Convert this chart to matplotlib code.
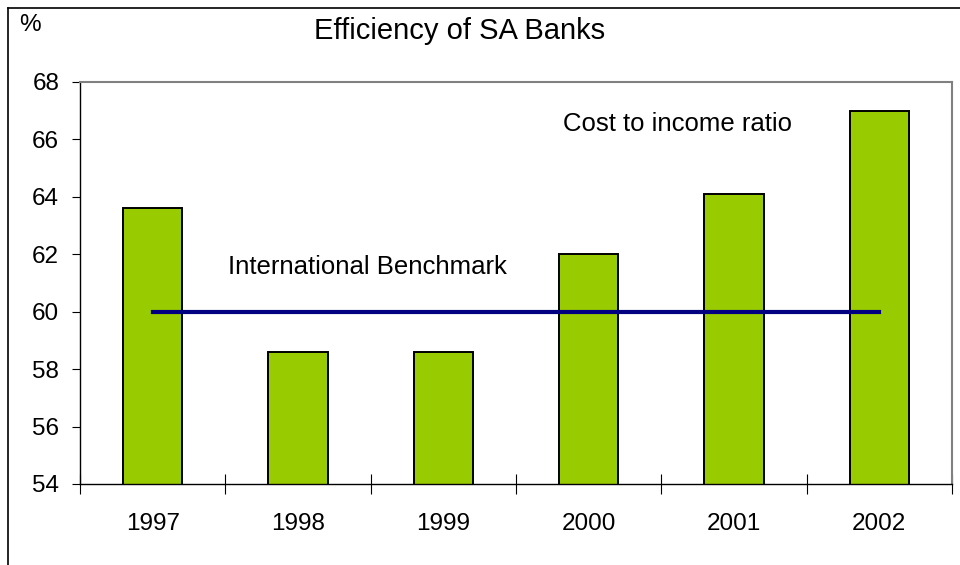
import matplotlib.pyplot as plt
from matplotlib.lines import Line2D
import numpy as np

plt.rcParams['font.family'] = ['Liberation Sans', 'DejaVu Sans']

years = ['1997', '1998', '1999', '2000', '2001', '2002']
cost_income = [63.6, 58.6, 58.6, 62.0, 64.1, 67.0]
benchmark = 60

fig = plt.figure(figsize=(9.6, 5.65), dpi=100)
ax = fig.add_axes([80 / 960, 1 - 484 / 565, 872 / 960, 402 / 565])

x = np.arange(len(years))
ax.bar(x, cost_income, width=0.41, color='#99cc00', edgecolor='black', linewidth=1.4, zorder=2)
ax.plot([x[0], x[-1]], [benchmark, benchmark], color='#000080', linewidth=3, zorder=3)

ax.set_xlim(-0.5, len(years) - 0.5)
ax.set_ylim(54, 68)
ax.set_yticks(range(54, 69, 2))
ax.tick_params(axis='y', direction='out', length=6, labelsize=17.5, pad=9)

# categories sit between boundary ticks
ax.set_xticks(np.arange(-0.5, len(years), 1))
ax.set_xticklabels([])
ax.set_xticks(x, minor=True)
ax.set_xticklabels(years, minor=True, fontsize=17.5)
ax.tick_params(axis='x', which='major', direction='inout', length=14)
ax.tick_params(axis='x', which='minor', length=0, pad=21)

for side in ('top', 'right'):
    ax.spines[side].set_color('#808080')
    ax.spines[side].set_linewidth(1.5)
for side in ('left', 'bottom'):
    ax.spines[side].set_color('black')
    ax.spines[side].set_linewidth(1.0)

ax.text(1.475, 61.56, 'International Benchmark', fontsize=18.5, va='center', ha='center')
ax.text(3.61, 66.54, 'Cost to income ratio', fontsize=18.5, va='center', ha='center')

fig.text(460 / 960, 1 - 31 / 565, 'Efficiency of SA Banks', fontsize=21, ha='center', va='center')
fig.text(30 / 960, 1 - 25 / 565, '%', fontsize=17.5, ha='center', va='center')

# frame around the chart (left and top edges)
fig.add_artist(Line2D([8 / 960, 8 / 960], [0, 1 - 8 / 565], color='black', linewidth=1.2))
fig.add_artist(Line2D([8 / 960, 1], [1 - 8 / 565, 1 - 8 / 565], color='black', linewidth=1.2))

fig.savefig('out.png', dpi=100)
